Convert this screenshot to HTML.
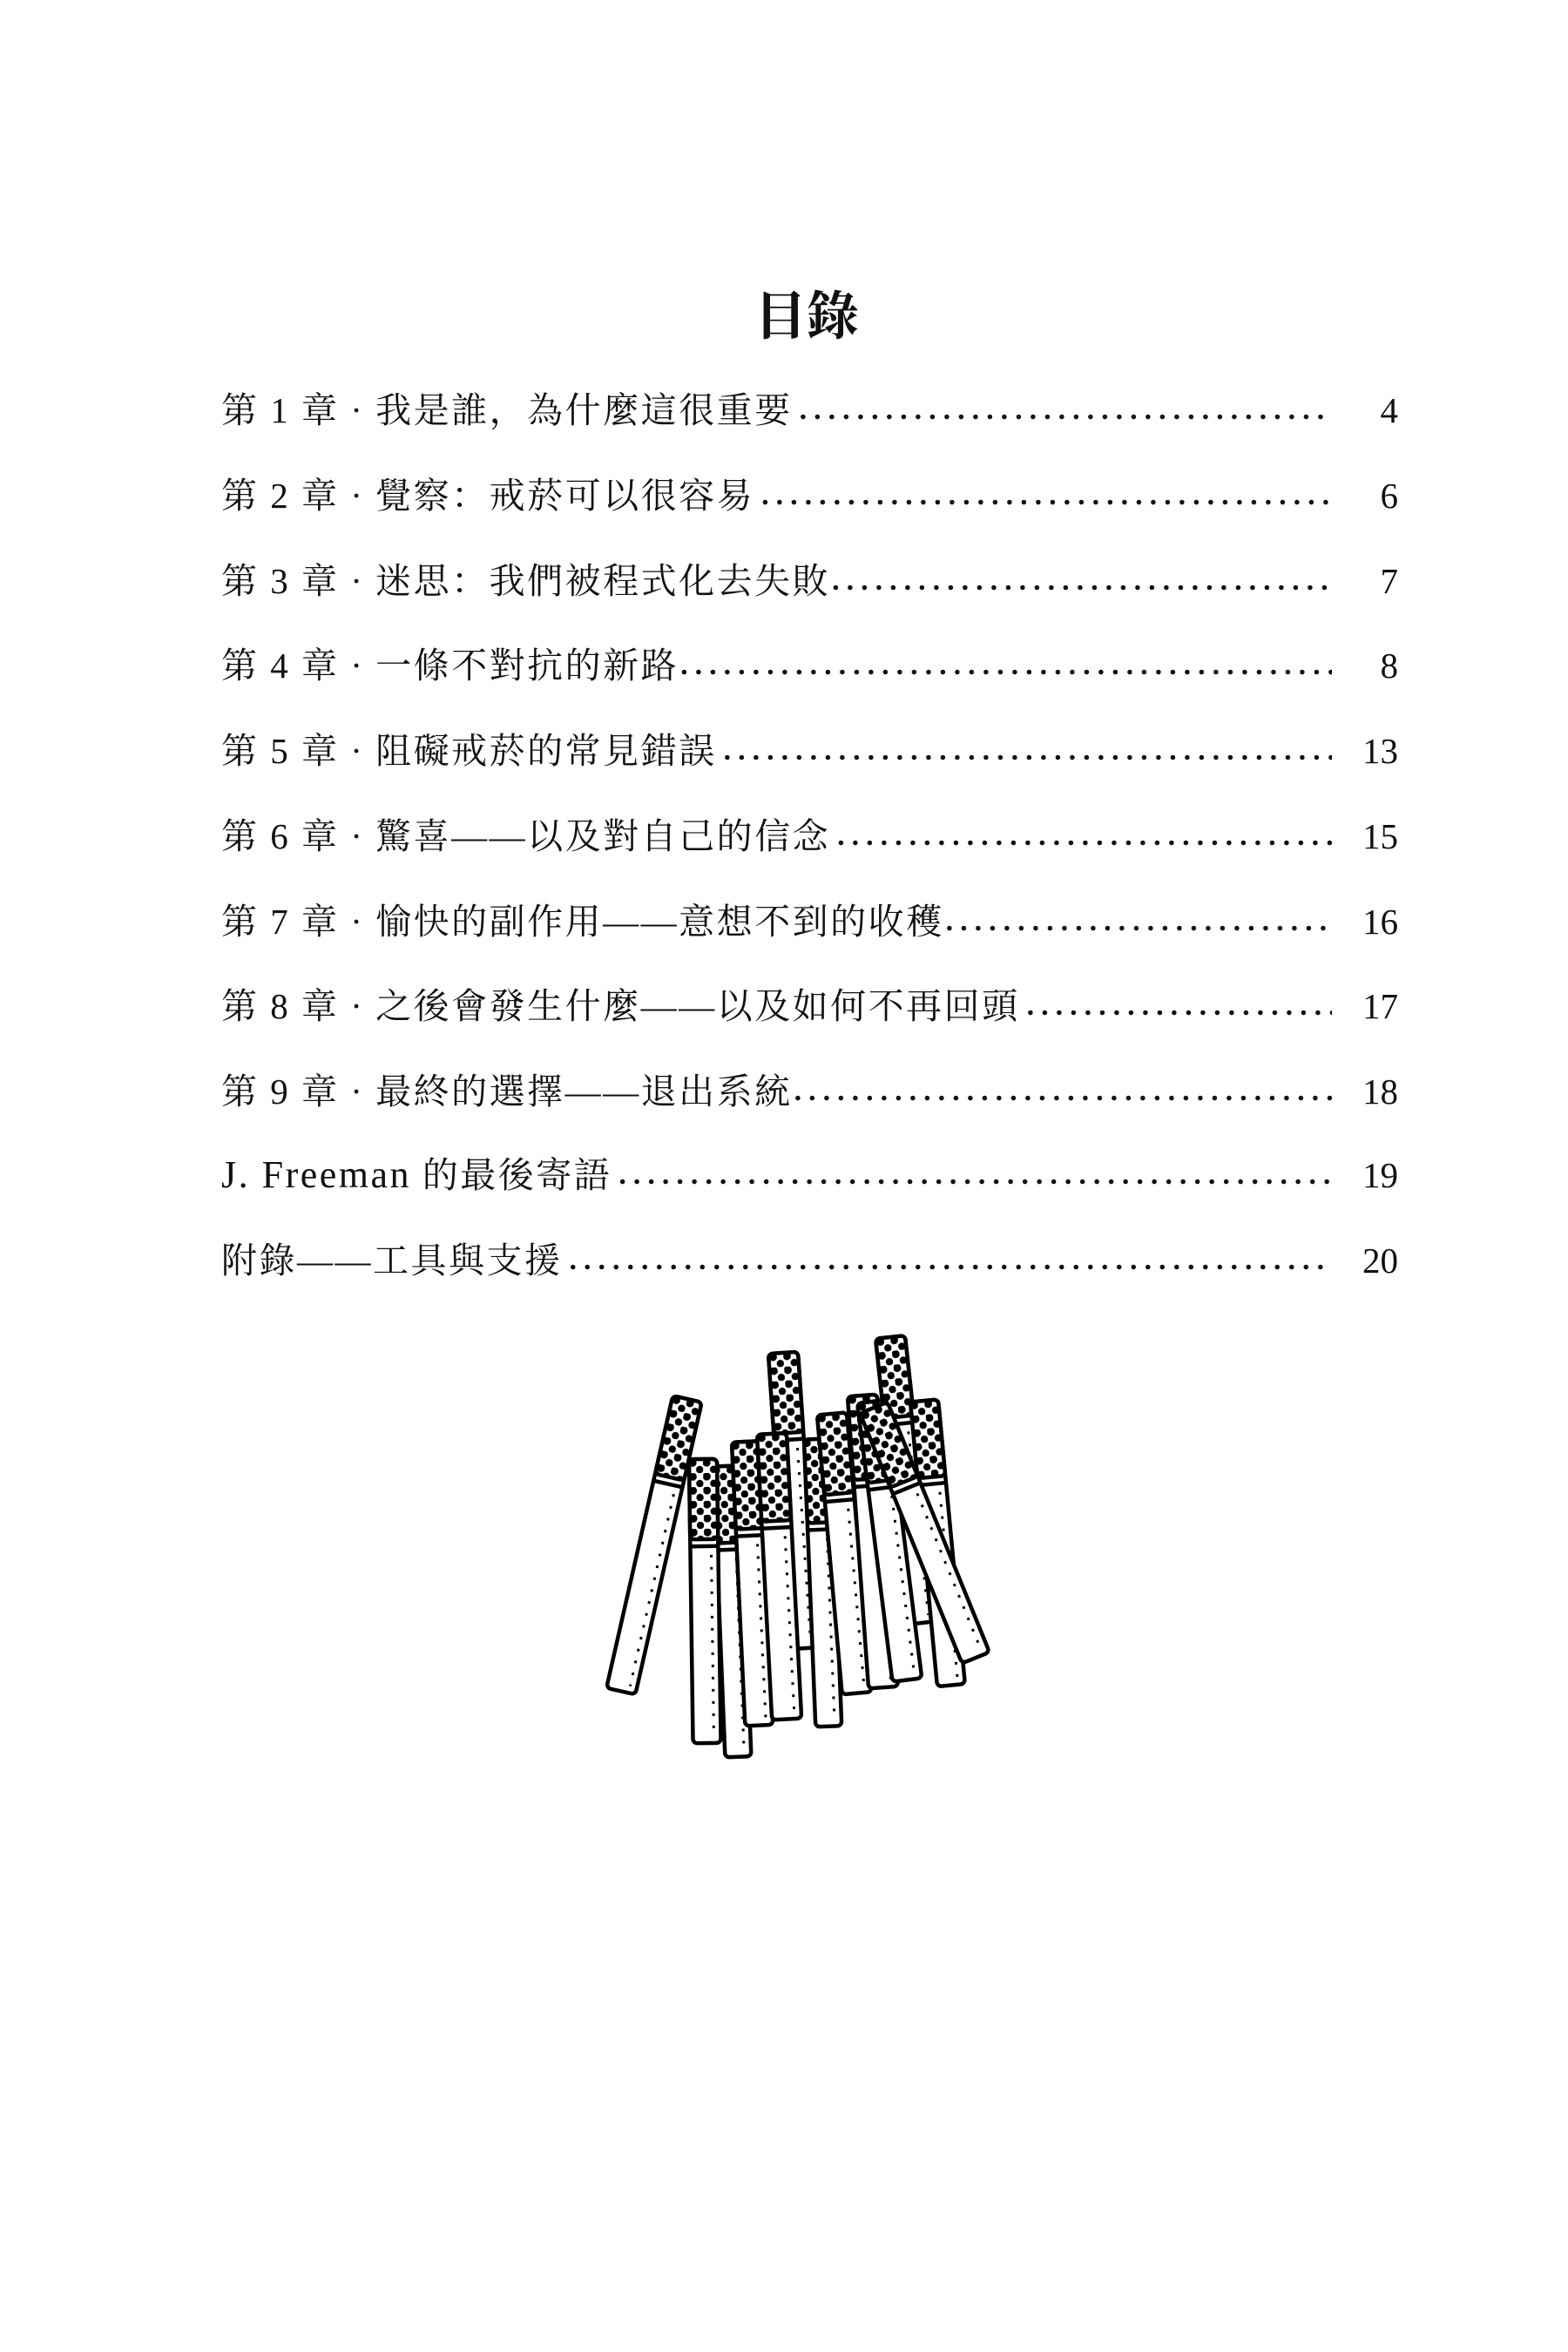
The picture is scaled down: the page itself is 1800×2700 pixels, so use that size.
<!DOCTYPE html>
<html><head><meta charset="utf-8"><style>
html,body{margin:0;padding:0;background:#fff;}
body{width:1800px;height:2700px;position:relative;overflow:hidden;font-family:"Liberation Serif","Noto Serif CJK SC","Noto Sans CJK TC",serif;color:#111;}
h1{position:absolute;left:0;width:1852px;top:326px;margin:0;text-align:center;font-size:60px;font-weight:bold;line-height:76px;}
.row{position:absolute;left:254px;width:1351px;height:50px;display:flex;align-items:center;font-size:41px;line-height:50px;white-space:nowrap;}
.lab{flex:none;letter-spacing:2.5px;}
.dots{flex:1;overflow:hidden;margin:0 12px 0 8px;letter-spacing:8px;font-size:34px;font-weight:bold;}
.num{flex:none;width:64px;text-align:right;}
</style></head><body>
<h1>目錄</h1>
<div class="row" style="top:446px"><span class="lab">第 1 章 · 我是誰，為什麼這很重要</span><span class="dots">........................................................................................</span><span class="num">4</span></div>
<div class="row" style="top:544px"><span class="lab">第 2 章 · 覺察：戒菸可以很容易</span><span class="dots">........................................................................................</span><span class="num">6</span></div>
<div class="row" style="top:642px"><span class="lab">第 3 章 · 迷思：我們被程式化去失敗</span><span class="dots" style="margin-left:2px">........................................................................................</span><span class="num">7</span></div>
<div class="row" style="top:739px"><span class="lab">第 4 章 · 一條不對抗的新路</span><span class="dots" style="margin-left:2px">........................................................................................</span><span class="num">8</span></div>
<div class="row" style="top:837px"><span class="lab">第 5 章 · 阻礙戒菸的常見錯誤</span><span class="dots">........................................................................................</span><span class="num">13</span></div>
<div class="row" style="top:935px"><span class="lab">第 6 章 · 驚喜——以及對自己的信念</span><span class="dots">........................................................................................</span><span class="num">15</span></div>
<div class="row" style="top:1033px"><span class="lab">第 7 章 · 愉快的副作用——意想不到的收穫</span><span class="dots" style="margin-left:2px">........................................................................................</span><span class="num">16</span></div>
<div class="row" style="top:1130px"><span class="lab">第 8 章 · 之後會發生什麼——以及如何不再回頭</span><span class="dots">........................................................................................</span><span class="num">17</span></div>
<div class="row" style="top:1228px"><span class="lab">第 9 章 · 最終的選擇——退出系統</span><span class="dots" style="margin-left:2px">........................................................................................</span><span class="num">18</span></div>
<div class="row" style="top:1324px"><span class="lab"><span style="font-size:44px">J. Freeman</span> 的最後寄語</span><span class="dots">........................................................................................</span><span class="num">19</span></div>
<div class="row" style="top:1422px"><span class="lab">附錄——工具與支援</span><span class="dots">........................................................................................</span><span class="num">20</span></div>

<svg style="position:absolute;left:0;top:0" width="1800" height="2700" viewBox="0 0 1800 2700">
<defs>
<pattern id="dots" width="16" height="16" patternUnits="userSpaceOnUse">
<rect width="16" height="16" fill="#fff"/>
<circle cx="4" cy="4" r="4.6" fill="#000"/>
<circle cx="12" cy="12" r="4.2" fill="#000"/>
</pattern>
</defs>
<g stroke="#000" stroke-width="4.5" stroke-linejoin="round">
<g transform="translate(899,1553) rotate(-3.9)"><rect x="-17" y="0" width="34" height="340" rx="5" fill="#fff"/><rect x="-17" y="0" width="34" height="92" rx="5" fill="url(#dots)"/><line x1="-17" y1="100" x2="17" y2="100"/><line x1="9" y1="110" x2="9" y2="332" stroke-width="3" stroke-dasharray="3 11"/></g>
<g transform="translate(1022,1535) rotate(-6.2)"><rect x="-17" y="0" width="34" height="330" rx="5" fill="#fff"/><rect x="-17" y="0" width="34" height="92" rx="5" fill="url(#dots)"/><line x1="-17" y1="100" x2="17" y2="100"/><line x1="9" y1="110" x2="9" y2="322" stroke-width="3" stroke-dasharray="3 11"/></g>
<g transform="translate(1061,1608) rotate(-5.4)"><rect x="-16" y="0" width="32" height="328" rx="5" fill="#fff"/><rect x="-16" y="0" width="32" height="88" rx="5" fill="url(#dots)"/><line x1="-16" y1="96" x2="16" y2="96"/><line x1="8" y1="106" x2="8" y2="320" stroke-width="3" stroke-dasharray="3 11"/></g>
<g transform="translate(789,1606) rotate(12.8)"><rect x="-17" y="0" width="34" height="344" rx="5" fill="#fff"/><rect x="-17" y="0" width="34" height="92" rx="5" fill="url(#dots)"/><line x1="-17" y1="100" x2="17" y2="100"/><line x1="9" y1="110" x2="9" y2="336" stroke-width="3" stroke-dasharray="3 11"/></g>
<g transform="translate(834,1683) rotate(-2.3)"><rect x="-15" y="0" width="30" height="334" rx="5" fill="#fff"/><rect x="-15" y="0" width="30" height="88" rx="5" fill="url(#dots)"/><line x1="-15" y1="96" x2="15" y2="96"/><line x1="7" y1="106" x2="7" y2="326" stroke-width="3" stroke-dasharray="3 11"/></g>
<g transform="translate(807,1675) rotate(-0.8)"><rect x="-16" y="0" width="32" height="326" rx="5" fill="#fff"/><rect x="-16" y="0" width="32" height="92" rx="5" fill="url(#dots)"/><line x1="-16" y1="100" x2="16" y2="100"/><line x1="8" y1="110" x2="8" y2="318" stroke-width="3" stroke-dasharray="3 11"/></g>
<g transform="translate(856,1655) rotate(-2.7)"><rect x="-16" y="0" width="32" height="326" rx="5" fill="#fff"/><rect x="-16" y="0" width="32" height="100" rx="5" fill="url(#dots)"/><line x1="-16" y1="108" x2="16" y2="108"/><line x1="8" y1="118" x2="8" y2="318" stroke-width="3" stroke-dasharray="3 11"/></g>
<g transform="translate(886,1646) rotate(-3)"><rect x="-17" y="0" width="34" height="328" rx="5" fill="#fff"/><rect x="-17" y="0" width="34" height="100" rx="5" fill="url(#dots)"/><line x1="-17" y1="108" x2="17" y2="108"/><line x1="9" y1="118" x2="9" y2="320" stroke-width="3" stroke-dasharray="3 11"/></g>
<g transform="translate(938,1652) rotate(-2.3)"><rect x="-15" y="0" width="30" height="330" rx="5" fill="#fff"/><rect x="-15" y="0" width="30" height="96" rx="5" fill="url(#dots)"/><line x1="-15" y1="104" x2="15" y2="104"/><line x1="7" y1="114" x2="7" y2="322" stroke-width="3" stroke-dasharray="3 11"/></g>
<g transform="translate(955,1623) rotate(-5.1)"><rect x="-17" y="0" width="34" height="322" rx="5" fill="#fff"/><rect x="-17" y="0" width="34" height="92" rx="5" fill="url(#dots)"/><line x1="-17" y1="100" x2="17" y2="100"/><line x1="9" y1="110" x2="9" y2="314" stroke-width="3" stroke-dasharray="3 11"/></g>
<g transform="translate(990,1602) rotate(-4.1)"><rect x="-17" y="0" width="34" height="336" rx="5" fill="#fff"/><rect x="-17" y="0" width="34" height="96" rx="5" fill="url(#dots)"/><line x1="-17" y1="104" x2="17" y2="104"/><line x1="9" y1="114" x2="9" y2="328" stroke-width="3" stroke-dasharray="3 11"/></g>
<g transform="translate(1001,1609) rotate(-7.2)"><rect x="-17" y="0" width="34" height="322" rx="5" fill="#fff"/><rect x="-17" y="0" width="34" height="92" rx="5" fill="url(#dots)"/><line x1="-17" y1="100" x2="17" y2="100"/><line x1="9" y1="110" x2="9" y2="314" stroke-width="3" stroke-dasharray="3 11"/></g>
<g transform="translate(1003,1616) rotate(-22.2)"><rect x="-17" y="0" width="34" height="310" rx="5" fill="#fff"/><rect x="-17" y="0" width="34" height="92" rx="5" fill="url(#dots)"/><line x1="-17" y1="100" x2="17" y2="100"/><line x1="9" y1="110" x2="9" y2="302" stroke-width="3" stroke-dasharray="3 11"/></g>
</g>
</svg>
</body></html>
